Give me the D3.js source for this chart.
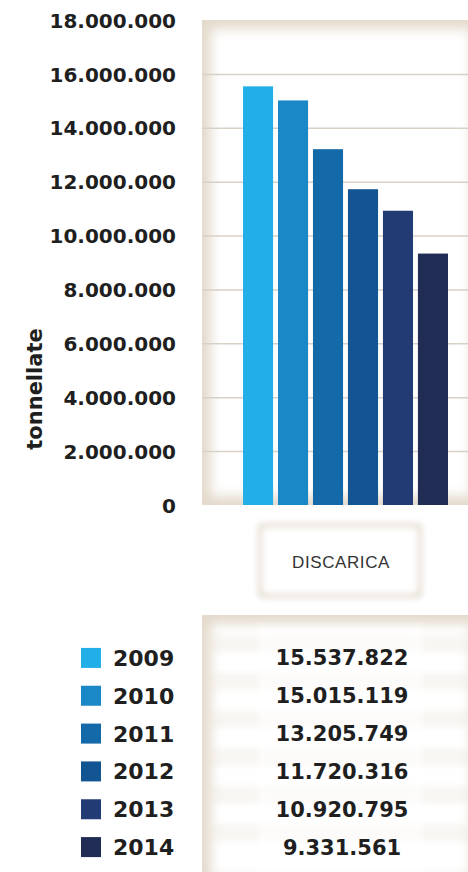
<!DOCTYPE html>
<meta charset="utf-8">
<style>
  body { margin: 0; background: #fff; }
  text { font-family: "DejaVu Sans", sans-serif; }
  .axis text { font-size: 20px; font-weight: bold; fill: #1f1f1f; }
  .axis path { display: none; }
  .grid line { stroke: #d8d1c7; stroke-width: 1.5; }
  .grid path, .grid text { display: none; }
  .legend text { font-size: 22px; font-weight: bold; fill: #1f1f1f; }
  .values text { font-size: 21px; font-weight: bold; fill: #1f1f1f; text-anchor: middle; }
</style>
<svg width="468" height="872"></svg>
<script src="https://d3js.org/d3.v7.min.js"></script>
<script>

var years = ["2009", "2010", "2011", "2012", "2013", "2014"];
var values = [15537822, 15015119, 13205749, 11720316, 10920795, 9331561];
var colors = ["#22aee6", "#1a88c6", "#146aa8", "#135592", "#233b74", "#212c54"];
var category = "DISCARICA";
var yTicks = [0, 2000000, 4000000, 6000000, 8000000, 10000000, 12000000, 14000000, 16000000, 18000000];
var yLabel = "tonnellate";

var svg = d3.select("svg"),
  width = +svg.attr("width"),
  height = +svg.attr("height");

var it = d3.formatLocale({decimal: ",", thousands: ".", grouping: [3], currency: ["", ""]});
var fmt = it.format(",d");

var panel = {x: 202, y: 20, w: width - 202 + 12, h: 485};
var table = {x: 202, y: 615, w: width - 202 + 12, h: 272};

var y = d3.scaleLinear().domain([0, 18000000]).range([panel.y + panel.h, panel.y]);
var x = d3.scaleBand().domain(years).range([243, 448]).paddingInner(0.14);
var rows = d3.scaleBand().domain(years).range([639, 866]);
var color = d3.scaleOrdinal(years, colors);

var defs = svg.append("defs");
var blur = defs.append("filter").attr("id", "soft").attr("x", "-20%").attr("y", "-20%").attr("width", "140%").attr("height", "140%");
blur.append("feGaussianBlur").attr("stdDeviation", 6);
var blur2 = defs.append("filter").attr("id", "soft2").attr("x", "-20%").attr("y", "-20%").attr("width", "140%").attr("height", "140%");
blur2.append("feGaussianBlur").attr("stdDeviation", 3);

// shaded panels (beige edge, white centre)
function shadedPanel(p, id) {
  defs.append("clipPath").attr("id", id).append("rect")
    .attr("x", p.x).attr("y", p.y).attr("width", p.w).attr("height", p.h);
  var g = svg.append("g").attr("clip-path", "url(#" + id + ")");
  g.append("rect").attr("x", p.x).attr("y", p.y).attr("width", p.w).attr("height", p.h)
    .attr("fill", "#e4dacc");
  g.append("rect").attr("x", p.x + 9).attr("y", p.y + 9).attr("width", p.w - 18).attr("height", p.h - 18)
    .attr("fill", "#fff").attr("filter", "url(#soft)");
  return g;
}

shadedPanel(panel, "clipChart");

// grid
svg.append("g")
  .attr("class", "grid")
  .attr("transform", "translate(" + panel.x + ",0)")
  .call(d3.axisRight(y).tickValues(yTicks.slice(1, -1)).tickSize(panel.w));

// y axis labels
svg.append("g")
  .attr("class", "axis")
  .attr("transform", "translate(" + panel.x + ",0)")
  .call(d3.axisLeft(y).tickValues(yTicks).tickSize(0).tickPadding(26).tickFormat(fmt))
  .selectAll("text").attr("dy", "0.36em");

svg.append("text")
  .attr("transform", "translate(42,389) rotate(-90)")
  .attr("text-anchor", "middle")
  .style("font-size", "21px")
  .style("font-weight", "bold")
  .style("fill", "#1f1f1f")
  .text(yLabel);

// bars
svg.append("g").selectAll("rect")
  .data(values)
  .enter().append("rect")
  .attr("x", function(d, i) { return x(years[i]); })
  .attr("y", function(d) { return y(d); })
  .attr("width", x.bandwidth())
  .attr("height", function(d) { return y(0) - y(d); })
  .attr("fill", function(d, i) { return color(years[i]); });

// category label box
var box = svg.append("g");
box.append("rect").attr("x", 258).attr("y", 523).attr("width", 164).attr("height", 75).attr("rx", 4)
  .attr("fill", "#e6ded3").attr("filter", "url(#soft2)");
box.append("rect").attr("x", 262).attr("y", 527).attr("width", 156).attr("height", 67).attr("rx", 4)
  .attr("fill", "#fff").attr("filter", "url(#soft2)");
box.append("text").attr("x", 341).attr("y", 562).attr("dy", "0.36em")
  .attr("text-anchor", "middle")
  .style("font-family", "'Liberation Sans', Arial, sans-serif")
  .style("font-size", "17px")
  .style("letter-spacing", "0.6px")
  .style("fill", "#333")
  .text(category);

// table panel
var tg = shadedPanel(table, "clipTable");
tg.selectAll(".stripe")
  .data(years)
  .enter().append("rect")
  .attr("class", "stripe")
  .attr("x", table.x).attr("width", table.w)
  .attr("y", function(d) { return rows(d) - 4; })
  .attr("height", rows.bandwidth() / 2 - 2)
  .attr("fill", "#ebe4da").attr("opacity", 0.35)
  .attr("filter", "url(#soft2)");
tg.append("rect").attr("x", 258).attr("y", table.y + 12).attr("width", 165).attr("height", table.h)
  .attr("fill", "#fff").attr("opacity", 0.6).attr("filter", "url(#soft2)");

var vals = svg.append("g").attr("class", "values");
vals.selectAll("text")
  .data(values)
  .enter().append("text")
  .attr("x", 342)
  .attr("y", function(d, i) { return rows(years[i]) + rows.bandwidth() / 2; })
  .attr("dy", "0.36em")
  .text(function(d) { return fmt(d); });

// legend
var legend = svg.append("g").attr("class", "legend")
  .selectAll("g")
  .data(years)
  .enter().append("g")
  .attr("transform", function(d) { return "translate(0," + (rows(d) + rows.bandwidth() / 2) + ")"; });

legend.append("rect")
  .attr("x", 81).attr("y", -10).attr("width", 20).attr("height", 20)
  .attr("fill", function(d) { return color(d); });

legend.append("text")
  .attr("x", 113).attr("dy", "0.36em")
  .text(function(d) { return d; });

</script>
